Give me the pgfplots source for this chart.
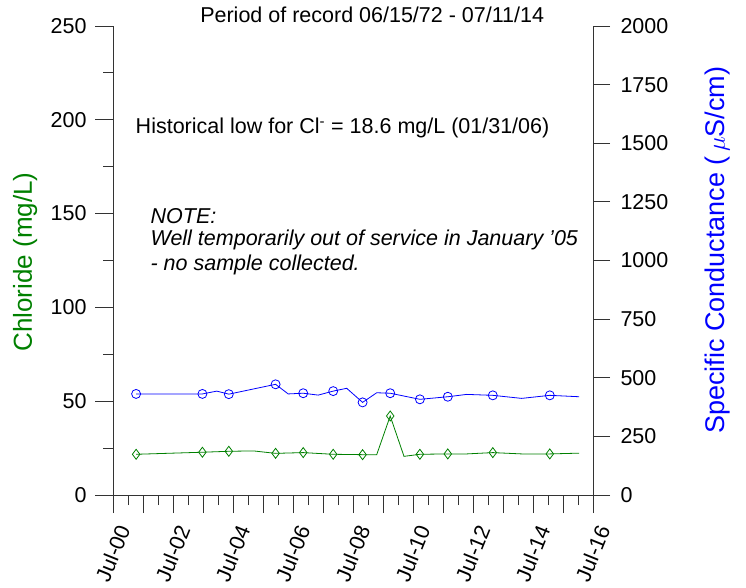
\documentclass[border=0pt]{standalone}
\usepackage{fontspec}
\setmainfont{Liberation Sans}
\usepackage{pgfplots}
\pgfplotsset{compat=1.18}
\definecolor{clgreen}{RGB}{0,128,0}
\definecolor{scblue}{RGB}{0,0,255}
\begin{document}
\begin{tikzpicture}[font=\fontsize{21.5}{25}\selectfont]
\useasboundingbox (-113pt,-93pt) rectangle (633pt,495pt);
\begin{axis}[
  scale only axis, width=480pt, height=469pt,
  xmin=2000.5, xmax=2016.5, ymin=0, ymax=250,
  axis x line*=bottom, axis y line*=left,
  axis line style={-, black!80, line width=0.8pt},
  every tick/.style={black!80, line width=0.8pt},
  tick align=outside,
  major tick length=18pt, minor tick length=10pt,
  xtick={2000.5,2002.5,2004.5,2006.5,2008.5,2010.5,2012.5,2014.5,2016.5},
  xticklabels={Jul-00,Jul-02,Jul-04,Jul-06,Jul-08,Jul-10,Jul-12,Jul-14,Jul-16},
  extra x ticks={2001.5,2003.5,2005.5,2007.5,2009.5,2011.5,2013.5,2015.5},
  extra x tick labels={},
  extra x tick style={major tick length=18pt},
  minor xtick={2001,2002,2003,2004,2005,2006,2007,2008,2009,2010,2011,2012,2013,2014,2015,2016},
  ytick={0,50,100,150,200,250},
  minor ytick={25,75,125,175,225},
  xticklabel style={xshift=12pt, yshift=-10pt, rotate=68, anchor=east},
  yticklabel style={xshift=-5pt},
  /pgf/number format/assume math mode=true,
  every axis y label/.style={at={(axis description cs:-0.183,0.497)}, rotate=90, anchor=center, font=\fontsize{26}{30}\selectfont},
  ylabel={\color{clgreen}Chloride (mg/L)},
  clip=false,
]
\addplot[clgreen, line width=0.8pt] coordinates {
(2001.27,21.7) (2003.48,22.8) (2004.36,23.3) (2005.18,23.5) (2005.92,22.2)
(2006.84,22.6) (2007.84,21.7) (2008.82,21.5) (2009.29,21.5) (2009.74,42.1)
(2010.20,20.6) (2010.73,21.7) (2011.66,21.9) (2012.29,21.9) (2013.16,22.6)
(2014.12,21.9) (2015.06,21.9) (2016.04,22.3)};
\addplot[clgreen, only marks, mark=diamond, mark size=5pt, mark options={line width=0.8pt}] coordinates {
(2001.27,21.7) (2003.48,22.8) (2004.36,23.3) (2005.92,22.2)
(2006.84,22.6) (2007.84,21.7) (2008.82,21.5) (2009.74,42.1)
(2010.73,21.7) (2011.66,21.9) (2013.16,22.6) (2015.06,21.9)};
\node[anchor=center] at (rel axis cs:0.54,1.0235) {Period of record 06/15/72 - 07/11/14};
\node[anchor=west] at (rel axis cs:0.040,0.7825) {Historical low for Cl\textsuperscript{-} = 18.6 mg/L (01/31/06)};
\node[anchor=west, font=\fontsize{21.5}{25}\selectfont\itshape] at (rel axis cs:0.071,0.595) {NOTE:};
\node[anchor=west, font=\fontsize{21.5}{25}\selectfont\itshape] at (rel axis cs:0.071,0.5437) {Well temporarily out of service in January '05};
\node[anchor=west, font=\fontsize{21.5}{25}\selectfont\itshape] at (rel axis cs:0.071,0.4904) {- no sample collected.};
\end{axis}
\begin{axis}[
  scale only axis, width=480pt, height=469pt,
  xmin=2000.5, xmax=2016.5, ymin=0, ymax=2000,
  axis x line=none, axis y line*=right,
  axis line style={-, black!80, line width=0.8pt},
  every tick/.style={black!80, line width=0.8pt},
  tick align=outside,
  major tick length=17pt,
  ytick={0,250,500,750,1000,1250,1500,1750,2000},
  yticklabel style={xshift=7pt},
  /pgf/number format/assume math mode=true,
  /pgf/number format/1000 sep={},
  every axis y label/.style={at={(axis description cs:1.26,0.522)}, rotate=90, anchor=center, font=\fontsize{27}{31}\selectfont},
  ylabel={\color{scblue}Specific Conductance (\,$\mu$S/cm)},
  clip=false,
]
\addplot[scblue, line width=0.8pt] coordinates {
(2001.27,431) (2003.48,431) (2003.96,443) (2004.36,430) (2005.92,472)
(2006.34,431) (2006.84,434) (2007.34,426) (2007.84,443) (2008.29,455)
(2008.82,395) (2009.29,436) (2009.74,434) (2010.73,408) (2011.66,419)
(2012.29,429) (2013.16,425) (2014.12,412) (2015.06,425) (2016.04,419)};
\addplot[scblue, only marks, mark=o, mark size=4.5pt, mark options={line width=0.8pt}] coordinates {
(2001.27,431) (2003.48,431) (2004.36,430) (2005.92,472)
(2006.84,434) (2007.84,443) (2008.82,395) (2009.74,434)
(2010.73,408) (2011.66,419) (2013.16,425) (2015.06,425)};
\end{axis}
\end{tikzpicture}
\end{document}
